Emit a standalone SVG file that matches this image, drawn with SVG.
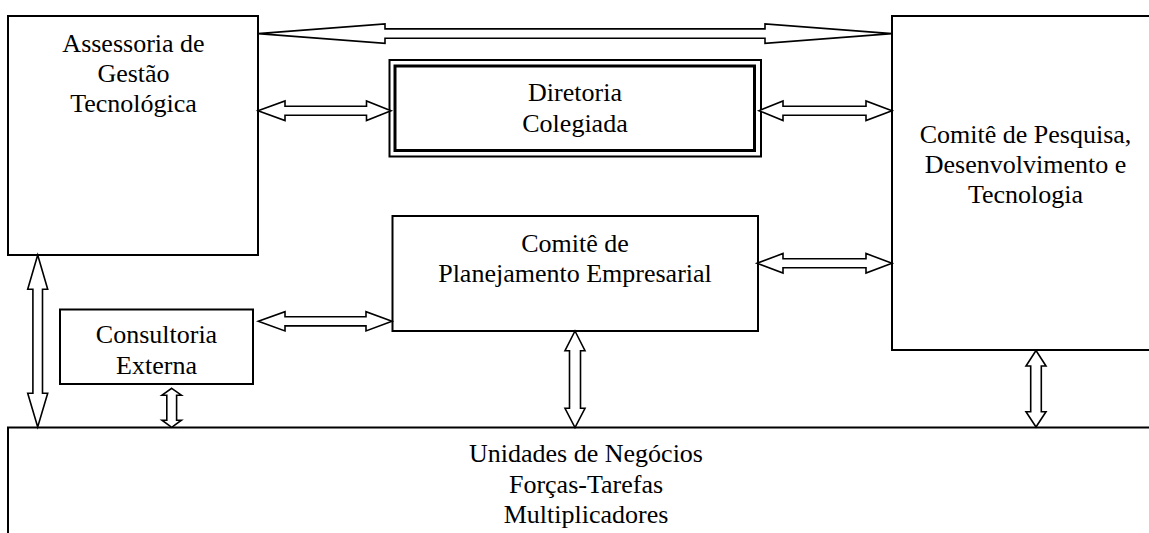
<svg xmlns="http://www.w3.org/2000/svg" width="1149" height="533" viewBox="0 0 1149 533">
  <style>
    .box { fill: #ffffff; stroke: #000000; stroke-width: 2; }
    .outer { fill: #ffffff; stroke: #000000; stroke-width: 2; }
    .inner { fill: none; stroke: #000000; stroke-width: 3; }
    .arrow { fill: #ffffff; stroke: #000000; stroke-width: 1.6; stroke-linejoin: miter; }
    .label { font-family: 'Liberation Serif', 'DejaVu Serif', serif; font-size: 26px; fill: #000000; text-anchor: middle; }
  </style>
  <rect x="0" y="0" width="1149" height="533" fill="#ffffff"/>

  <g font-family="Liberation Serif, DejaVu Serif, serif">
  <!-- Business units (runs past the right and bottom edges) -->
  <g id="unidades">
    <rect class="box" x="8" y="427.5" width="1160" height="130"/>
    <text class="label" x="586" y="461.5">Unidades de Negócios</text>
    <text class="label" x="586" y="492.5">Forças-Tarefas</text>
    <text class="label" x="586" y="523">Multiplicadores</text>
  </g>

  <!-- Technology management advisory -->
  <g id="assessoria">
    <rect class="box" x="8" y="16" width="250" height="239"/>
    <text class="label" x="133.5" y="51.5">Assessoria de</text>
    <text class="label" x="133.5" y="81.5">Gestão</text>
    <text class="label" x="133.5" y="111.5">Tecnológica</text>
  </g>

  <!-- Board of directors (double border) -->
  <g id="diretoria">
    <rect class="outer" x="389.5" y="60" width="371.5" height="96.5"/>
    <rect class="inner" x="395" y="66" width="359.5" height="84.5"/>
    <text class="label" x="575" y="100.5">Diretoria</text>
    <text class="label" x="575" y="131.5">Colegiada</text>
  </g>

  <!-- R&D and technology committee (runs past the right edge) -->
  <g id="comite-pdt">
    <rect class="box" x="892" y="16" width="280" height="334"/>
    <text class="label" x="1025.5" y="142.5">Comitê de Pesquisa,</text>
    <text class="label" x="1025.5" y="173">Desenvolvimento e</text>
    <text class="label" x="1025.5" y="203">Tecnologia</text>
  </g>

  <!-- Business planning committee -->
  <g id="comite-planejamento">
    <rect class="box" x="392.5" y="216" width="365.5" height="115"/>
    <text class="label" x="575" y="251.5">Comitê de</text>
    <text class="label" x="575" y="281.5">Planejamento Empresarial</text>
  </g>

  <!-- External consulting -->
  <g id="consultoria">
    <rect class="box" x="60" y="309.5" width="193" height="74.5"/>
    <text class="label" x="156.5" y="343">Consultoria</text>
    <text class="label" x="156.5" y="373.5">Externa</text>
  </g>
  </g>

  <!-- Double-headed block arrows -->
  <g id="connectors">
    <!-- Assessoria <-> Comitê PDT (long, narrow heads) -->
    <path class="arrow" d="M258,33.6 L385,23.9 L385,28.9 L765,28.9 L765,23.9 L892,33.6 L765,43.3 L765,38.3 L385,38.3 L385,43.3 Z"/>
    <!-- Assessoria <-> Diretoria -->
    <path class="arrow" d="M258,110.7 L285,100.9 L285,106.2 L366.5,106.2 L366.5,100.9 L391,110.7 L366.5,120.5 L366.5,115.2 L285,115.2 L285,120.5 Z"/>
    <!-- Diretoria <-> Comitê PDT -->
    <path class="arrow" d="M759,110.7 L783,100.9 L783,106.2 L866,106.2 L866,100.9 L892,110.7 L866,120.5 L866,115.2 L783,115.2 L783,120.5 Z"/>
    <!-- Comitê Planejamento <-> Comitê PDT -->
    <path class="arrow" d="M757,263.3 L783,253.5 L783,258.8 L866,258.8 L866,253.5 L892,263.3 L866,273.1 L866,267.8 L783,267.8 L783,273.1 Z"/>
    <!-- Consultoria <-> Comitê Planejamento -->
    <path class="arrow" d="M258.3,321.3 L285,311.7 L285,316.7 L366,316.7 L366,311.7 L392,321.3 L366,330.9 L366,325.9 L285,325.9 L285,330.9 Z"/>
    <!-- Assessoria <-> Unidades -->
    <path class="arrow" d="M37.7,255 L47.7,289.3 L42.5,289.3 L42.5,393.3 L47.7,393.3 L37.7,427 L27.7,393.3 L32.9,393.3 L32.9,289.3 L27.7,289.3 Z"/>
    <!-- Consultoria <-> Unidades -->
    <path class="arrow" d="M171.7,388.3 L181.4,395.2 L176.6,395.2 L176.6,420.2 L181.4,420.2 L171.7,427.3 L162,420.2 L166.8,420.2 L166.8,395.2 L162,395.2 Z"/>
    <!-- Comitê Planejamento <-> Unidades -->
    <path class="arrow" d="M575,331 L585,350.7 L580.5,350.7 L580.5,408.3 L585,408.3 L575,427.5 L565,408.3 L569.5,408.3 L569.5,350.7 L565,350.7 Z"/>
    <!-- Comitê PDT <-> Unidades -->
    <path class="arrow" d="M1036,350.5 L1046,366 L1041.3,366 L1041.3,411.7 L1046,411.7 L1036,427 L1026,411.7 L1030.7,411.7 L1030.7,366 L1026,366 Z"/>
  </g>
</svg>
